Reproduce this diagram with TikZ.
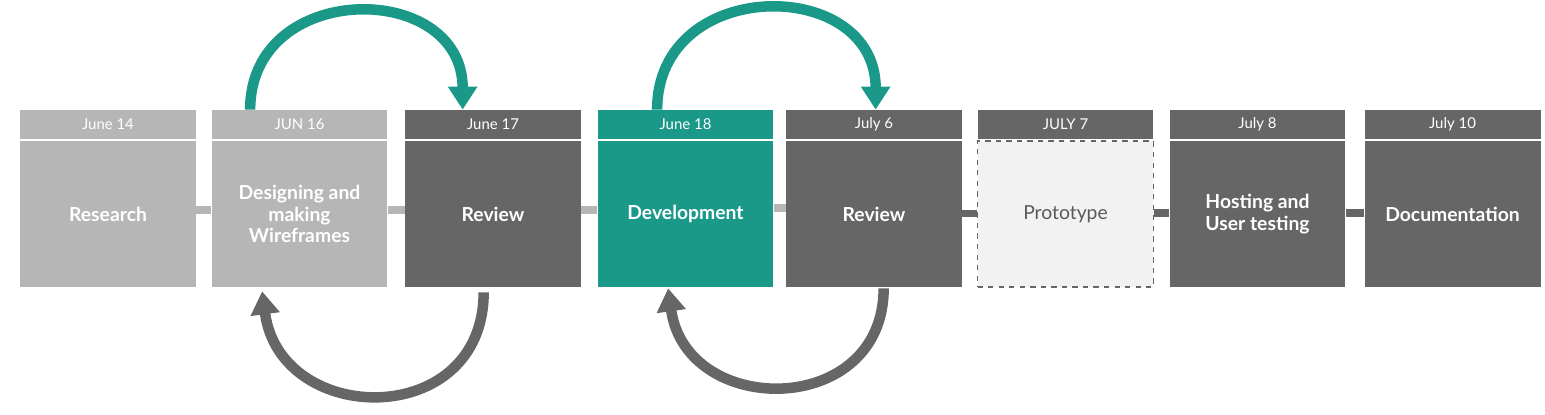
\documentclass[tikz,border=0pt]{standalone}
\usepackage{fontspec}
\setmainfont{Lato}
\usetikzlibrary{arrows.meta}
\definecolor{tealstep}{HTML}{1A9988}
\definecolor{darkstep}{HTML}{666666}
\definecolor{lightstep}{HTML}{B6B6B6}
\definecolor{protofill}{HTML}{F2F2F2}
\definecolor{prototext}{HTML}{5A5A5A}
\tikzset{
	stepbody/.style={minimum width=3.52cm, minimum height=2.92cm, inner sep=0pt, align=center,
		text=white, font=\fontsize{11}{12.4}\selectfont\bfseries},
	stephead/.style={minimum width=3.52cm, minimum height=0.58cm, inner sep=0pt,
		text=white, font=\fontsize{8.5}{10}\selectfont},
	link/.style={line width=0.16cm},
	loopline/.style={line width=0.21cm, -{Triangle[width=0.56cm,length=0.46cm]}}
}
\begin{document}
\begin{tikzpicture}[x=0.02cm,y=-0.02cm]
	\useasboundingbox (0,0) rectangle (1545,415);

	% Steps: body and date header
	\node[stepbody, fill=lightstep] (b1) at (108,214) {Research};
	\node[stephead, fill=lightstep] (h1) at (108,124.5) {June 14};
	\node[stepbody, fill=lightstep] (b2) at (299.5,214) {Designing and\\making\\Wireframes};
	\node[stephead, fill=lightstep] (h2) at (299.5,124.5) {JUN 16};
	\node[stepbody, fill=darkstep] (b3) at (493,214) {Review};
	\node[stephead, fill=darkstep] (h3) at (493,124.5) {June 17};
	\node[stepbody, fill=tealstep] (b4) at (685.5,214) {Development};
	\node[stephead, fill=tealstep] (h4) at (685.5,124.5) {June 18};
	\node[stepbody, fill=darkstep] (b5) at (874,214) {Review};
	\node[stephead, fill=darkstep] (h5) at (874,124.5) {July 6};
	\node[stepbody, fill=protofill, draw=darkstep, dashed, line width=0.6pt,
		text=prototext, font=\fontsize{11}{12.4}\selectfont] (b6) at (1065.5,214) {Prototype};
	\node[stephead, fill=darkstep] (h6) at (1065.5,124.5) {JULY 7};
	\node[stepbody, fill=darkstep] (b7) at (1257.5,214) {Hosting and\\User testing};
	\node[stephead, fill=darkstep] (h7) at (1257.5,124.5) {July 8};
	\node[stepbody, fill=darkstep] (b8) at (1452.5,214) {Documentation};
	\node[stephead, fill=darkstep] (h8) at (1452.5,124.5) {July 10};

	% Links between steps
	\draw[link, lightstep] ([yshift=0.08cm]b1.east) -- ([yshift=0.08cm]b2.west);
	\draw[link, lightstep] ([yshift=0.08cm]b2.east) -- ([yshift=0.08cm]b3.west);
	\draw[link, lightstep] ([yshift=0.08cm]b3.east) -- ([yshift=0.08cm]b4.west);
	\draw[link, lightstep] ([yshift=0.12cm]b4.east) -- ([yshift=0.12cm]b5.west);
	\draw[link, darkstep] ([yshift=0.01cm]b5.east) -- ([yshift=0.01cm]b6.west);
	\draw[link, darkstep] ([yshift=0.02cm]b6.east) -- ([yshift=0.02cm]b7.west);
	\draw[link, darkstep] ([yshift=0.02cm]b7.east) -- ([yshift=0.02cm]b8.west);

	% Loops over the top
	\draw[loopline, tealstep] ([xshift=0.78cm]h2.north west)
		.. controls +(0,-130) and +(0,-130) .. ([xshift=1.16cm]h3.north west);
	\draw[loopline, tealstep] ([xshift=1.2cm]h4.north west)
		.. controls +(0,-134) and +(0,-134) .. ([xshift=1.8cm]h5.north west);

	% Loops underneath
	\draw[loopline, darkstep] ([xshift=1.58cm,yshift=-0.1cm]b3.south west)
		.. controls +(0,138) and +(18,136) .. ([xshift=1.02cm,yshift=-0.08cm]b2.south west);
	\draw[loopline, darkstep] ([xshift=1.96cm,yshift=-0.02cm]b5.south west)
		.. controls +(0,130) and +(18,130) .. ([xshift=1.42cm,yshift=-0.02cm]b4.south west);
\end{tikzpicture}
\end{document}
